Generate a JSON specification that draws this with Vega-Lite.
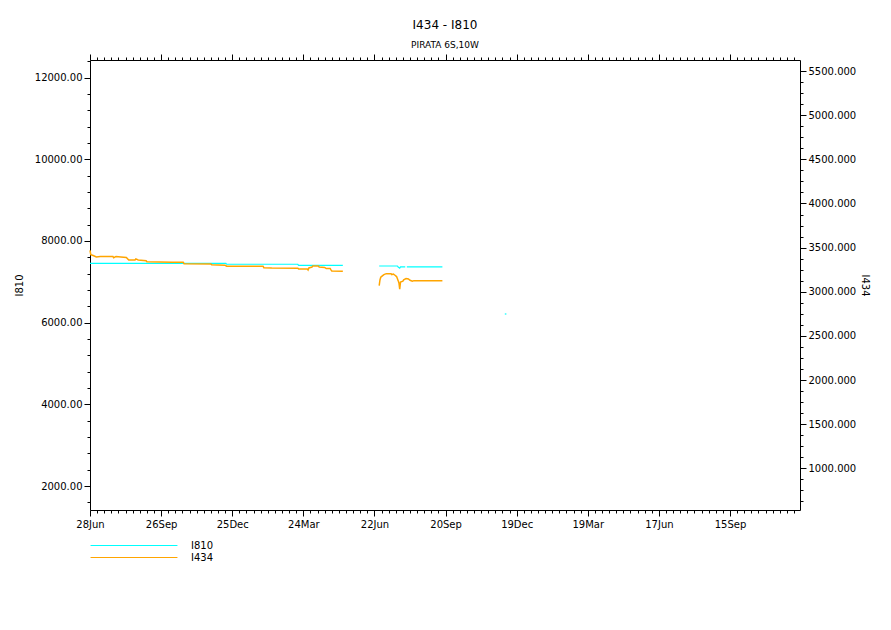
{
  "$schema": "https://vega.github.io/schema/vega-lite/v6.json",
  "width": 710,
  "height": 450,
  "autosize": "none",
  "padding": {"left": 90, "top": 60, "right": 91, "bottom": 120},
  "background": "white",
  "title": {
    "text": "I434 - I810",
    "subtitle": "PIRATA 6S,10W",
    "font": "DejaVu Sans",
    "fontSize": 12,
    "fontWeight": "normal",
    "color": "black",
    "subtitleFont": "DejaVu Sans",
    "subtitleFontSize": 9,
    "subtitleColor": "black",
    "subtitlePadding": 9,
    "anchor": "middle",
    "offset": 3
  },
  "config": {
    "view": {"stroke": null},
    "axis": {
      "grid": false,
      "domainColor": "black",
      "tickColor": "black",
      "labelColor": "black",
      "titleColor": "black",
      "labelFont": "DejaVu Sans",
      "labelFontSize": 10,
      "titleFont": "DejaVu Sans",
      "titleFontSize": 10,
      "titleFontWeight": "normal",
      "labelOverlap": false,
      "labelFlush": false,
      "labelBound": false
    }
  },
  "datasets": {
    "pts": [
      {"d": "1999-06-28", "s": "I810", "g": "a", "v": 7454},
      {"d": "1999-12-17", "s": "I810", "g": "a", "v": 7454},
      {"d": "1999-12-18", "s": "I810", "g": "a", "v": 7430},
      {"d": "2000-03-17", "s": "I810", "g": "a", "v": 7430},
      {"d": "2000-03-18", "s": "I810", "g": "a", "v": 7405},
      {"d": "2000-05-13", "s": "I810", "g": "a", "v": 7405},
      {"d": "2000-06-28", "s": "I810", "g": "b", "v": 7388},
      {"d": "2000-07-21", "s": "I810", "g": "b", "v": 7388},
      {"d": "2000-07-22", "s": "I810", "g": "b", "v": 7364},
      {"d": "2000-07-24", "s": "I810", "g": "b", "v": 7335},
      {"d": "2000-07-25", "s": "I810", "g": "b", "v": 7364},
      {"d": "2000-07-31", "s": "I810", "g": "b", "v": 7364},
      {"d": "2000-08-02", "s": "I810", "g": "c", "v": 7364},
      {"d": "2000-09-16", "s": "I810", "g": "c", "v": 7364},
      {"d": "2000-12-04", "s": "I810", "g": "d", "v": 6213},
      {"d": "2000-12-06", "s": "I810", "g": "d", "v": 6213},
      {"d": "1999-06-28", "s": "I434", "g": "e", "v": 3470},
      {"d": "1999-06-29", "s": "I434", "g": "e", "v": 3420},
      {"d": "1999-07-02", "s": "I434", "g": "e", "v": 3410},
      {"d": "1999-07-06", "s": "I434", "g": "e", "v": 3395},
      {"d": "1999-07-11", "s": "I434", "g": "e", "v": 3398},
      {"d": "1999-07-27", "s": "I434", "g": "e", "v": 3398},
      {"d": "1999-07-28", "s": "I434", "g": "e", "v": 3385},
      {"d": "1999-07-31", "s": "I434", "g": "e", "v": 3400},
      {"d": "1999-08-06", "s": "I434", "g": "e", "v": 3395},
      {"d": "1999-08-13", "s": "I434", "g": "e", "v": 3388},
      {"d": "1999-08-16", "s": "I434", "g": "e", "v": 3360},
      {"d": "1999-08-24", "s": "I434", "g": "e", "v": 3360},
      {"d": "1999-08-25", "s": "I434", "g": "e", "v": 3372},
      {"d": "1999-08-28", "s": "I434", "g": "e", "v": 3360},
      {"d": "1999-09-07", "s": "I434", "g": "e", "v": 3352},
      {"d": "1999-09-08", "s": "I434", "g": "e", "v": 3340},
      {"d": "1999-10-10", "s": "I434", "g": "e", "v": 3335},
      {"d": "1999-10-24", "s": "I434", "g": "e", "v": 3335},
      {"d": "1999-10-25", "s": "I434", "g": "e", "v": 3318},
      {"d": "1999-11-28", "s": "I434", "g": "e", "v": 3315},
      {"d": "1999-11-29", "s": "I434", "g": "e", "v": 3305},
      {"d": "1999-12-16", "s": "I434", "g": "e", "v": 3300},
      {"d": "1999-12-18", "s": "I434", "g": "e", "v": 3290},
      {"d": "2000-01-05", "s": "I434", "g": "e", "v": 3290},
      {"d": "2000-02-02", "s": "I434", "g": "e", "v": 3290},
      {"d": "2000-02-03", "s": "I434", "g": "e", "v": 3273},
      {"d": "2000-02-13", "s": "I434", "g": "e", "v": 3268},
      {"d": "2000-03-17", "s": "I434", "g": "e", "v": 3267},
      {"d": "2000-03-18", "s": "I434", "g": "e", "v": 3259},
      {"d": "2000-03-29", "s": "I434", "g": "e", "v": 3258},
      {"d": "2000-03-30", "s": "I434", "g": "e", "v": 3247},
      {"d": "2000-03-31", "s": "I434", "g": "e", "v": 3270},
      {"d": "2000-04-04", "s": "I434", "g": "e", "v": 3280},
      {"d": "2000-04-05", "s": "I434", "g": "e", "v": 3293},
      {"d": "2000-04-12", "s": "I434", "g": "e", "v": 3293},
      {"d": "2000-04-13", "s": "I434", "g": "e", "v": 3280},
      {"d": "2000-04-20", "s": "I434", "g": "e", "v": 3275},
      {"d": "2000-04-22", "s": "I434", "g": "e", "v": 3262},
      {"d": "2000-04-27", "s": "I434", "g": "e", "v": 3262},
      {"d": "2000-04-28", "s": "I434", "g": "e", "v": 3248},
      {"d": "2000-04-29", "s": "I434", "g": "e", "v": 3235},
      {"d": "2000-05-13", "s": "I434", "g": "e", "v": 3233},
      {"d": "2000-06-28", "s": "I434", "g": "f", "v": 3070},
      {"d": "2000-06-29", "s": "I434", "g": "f", "v": 3134},
      {"d": "2000-06-30", "s": "I434", "g": "f", "v": 3164},
      {"d": "2000-07-02", "s": "I434", "g": "f", "v": 3180},
      {"d": "2000-07-04", "s": "I434", "g": "f", "v": 3194},
      {"d": "2000-07-07", "s": "I434", "g": "f", "v": 3205},
      {"d": "2000-07-13", "s": "I434", "g": "f", "v": 3205},
      {"d": "2000-07-14", "s": "I434", "g": "f", "v": 3195},
      {"d": "2000-07-16", "s": "I434", "g": "f", "v": 3200},
      {"d": "2000-07-18", "s": "I434", "g": "f", "v": 3187},
      {"d": "2000-07-20", "s": "I434", "g": "f", "v": 3172},
      {"d": "2000-07-21", "s": "I434", "g": "f", "v": 3150},
      {"d": "2000-07-22", "s": "I434", "g": "f", "v": 3126},
      {"d": "2000-07-23", "s": "I434", "g": "f", "v": 3100},
      {"d": "2000-07-24", "s": "I434", "g": "f", "v": 3028},
      {"d": "2000-07-25", "s": "I434", "g": "f", "v": 3111},
      {"d": "2000-07-28", "s": "I434", "g": "f", "v": 3120},
      {"d": "2000-07-29", "s": "I434", "g": "f", "v": 3135},
      {"d": "2000-08-01", "s": "I434", "g": "f", "v": 3149},
      {"d": "2000-08-04", "s": "I434", "g": "f", "v": 3145},
      {"d": "2000-08-06", "s": "I434", "g": "f", "v": 3130},
      {"d": "2000-08-09", "s": "I434", "g": "f", "v": 3119},
      {"d": "2000-08-11", "s": "I434", "g": "f", "v": 3126},
      {"d": "2000-09-16", "s": "I434", "g": "f", "v": 3126}
    ]
  },
  "data": {"name": "pts"},
  "layer": [
    {
      "transform": [{"filter": "datum.s === 'I810'"}],
      "mark": {"type": "line", "strokeWidth": 1.2},
      "encoding": {
        "x": {
          "field": "d",
          "type": "temporal",
          "scale": {"type": "utc", "domain": [930528000000, 1008167040000]},
          "axis": {
            "orient": "bottom",
            "title": null,
            "values": [930528000000,931305600000,932083200000,932860800000,933638400000,934416000000,935193600000,935971200000,936748800000,937526400000,938304000000,939081600000,939859200000,940636800000,941414400000,942192000000,942969600000,943747200000,944524800000,945302400000,946080000000,946857600000,947635200000,948412800000,949190400000,949968000000,950745600000,951523200000,952300800000,953078400000,953856000000,954633600000,955411200000,956188800000,956966400000,957744000000,958521600000,959299200000,960076800000,960854400000,961632000000,962409600000,963187200000,963964800000,964742400000,965520000000,966297600000,967075200000,967852800000,968630400000,969408000000,970185600000,970963200000,971740800000,972518400000,973296000000,974073600000,974851200000,975628800000,976406400000,977184000000,977961600000,978739200000,979516800000,980294400000,981072000000,981849600000,982627200000,983404800000,984182400000,984960000000,985737600000,986515200000,987292800000,988070400000,988848000000,989625600000,990403200000,991180800000,991958400000,992736000000,993513600000,994291200000,995068800000,995846400000,996624000000,997401600000,998179200000,998956800000,999734400000,1000512000000,1001289600000,1002067200000,1002844800000,1003622400000,1004400000000,1005177600000,1005955200000,1006732800000,1007510400000],
            "labelExpr": "(+datum.value - 930528000000) % 7776000000 === 0 ? utcFormat(datum.value, '%d%b') : ''",
            "tickSize": {"condition": {"test": "(+datum.value - 930528000000) % 7776000000 === 0", "value": 6}, "value": 3},
            "labelPadding": 3
          }
        },
        "y": {
          "field": "v",
          "type": "quantitative",
          "scale": {"domain": [1415, 12430], "zero": false, "nice": false},
          "axis": {
            "orient": "left",
            "title": "I810",
            "values": [1600,2000,2400,2800,3200,3600,4000,4400,4800,5200,5600,6000,6400,6800,7200,7600,8000,8400,8800,9200,9600,10000,10400,10800,11200,11600,12000,12400],
            "labelExpr": "datum.value % 2000 === 0 ? format(datum.value, '.2f') : ''",
            "tickSize": {"condition": {"test": "datum.value % 2000 === 0", "value": 6}, "value": 3},
            "labelPadding": 2,
            "titlePadding": 10
          }
        },
        "color": {
          "field": "s",
          "type": "nominal",
          "scale": {"domain": ["I810", "I434"], "range": ["#00FFFF", "#FFA500"]},
          "legend": {
            "orient": "none",
            "legendX": 38,
            "legendY": 479.5,
            "title": null,
            "symbolType": "M-8,0H8",
            "symbolSize": 118,
            "symbolStrokeWidth": 1,
            "labelFont": "DejaVu Sans",
            "labelFontSize": 10,
            "labelColor": "black",
            "labelOffset": 51,
            "rowPadding": 1
          }
        },
        "detail": {"field": "g"}
      }
    },
    {
      "transform": [{"filter": "datum.s === 'I434'"}],
      "mark": {"type": "line", "strokeWidth": 1.5},
      "encoding": {
        "x": {
          "field": "d",
          "type": "temporal",
          "scale": {"type": "utc", "domain": [930528000000, 1008167040000]},
          "axis": {
            "orient": "top",
            "title": null,
            "labels": false,
            "values": [930528000000,931305600000,932083200000,932860800000,933638400000,934416000000,935193600000,935971200000,936748800000,937526400000,938304000000,939081600000,939859200000,940636800000,941414400000,942192000000,942969600000,943747200000,944524800000,945302400000,946080000000,946857600000,947635200000,948412800000,949190400000,949968000000,950745600000,951523200000,952300800000,953078400000,953856000000,954633600000,955411200000,956188800000,956966400000,957744000000,958521600000,959299200000,960076800000,960854400000,961632000000,962409600000,963187200000,963964800000,964742400000,965520000000,966297600000,967075200000,967852800000,968630400000,969408000000,970185600000,970963200000,971740800000,972518400000,973296000000,974073600000,974851200000,975628800000,976406400000,977184000000,977961600000,978739200000,979516800000,980294400000,981072000000,981849600000,982627200000,983404800000,984182400000,984960000000,985737600000,986515200000,987292800000,988070400000,988848000000,989625600000,990403200000,991180800000,991958400000,992736000000,993513600000,994291200000,995068800000,995846400000,996624000000,997401600000,998179200000,998956800000,999734400000,1000512000000,1001289600000,1002067200000,1002844800000,1003622400000,1004400000000,1005177600000,1005955200000,1006732800000,1007510400000],
            "tickSize": {"condition": {"test": "(+datum.value - 930528000000) % 7776000000 === 0", "value": 6}, "value": 3}
          }
        },
        "y": {
          "field": "v",
          "type": "quantitative",
          "scale": {"domain": [528, 5625], "zero": false, "nice": false},
          "axis": {
            "orient": "right",
            "title": "I434",
            "values": [625,750,875,1000,1125,1250,1375,1500,1625,1750,1875,2000,2125,2250,2375,2500,2625,2750,2875,3000,3125,3250,3375,3500,3625,3750,3875,4000,4125,4250,4375,4500,4625,4750,4875,5000,5125,5250,5375,5500],
            "labelExpr": "datum.value % 500 === 0 ? format(datum.value, '.3f') : ''",
            "tickSize": {"condition": {"test": "datum.value % 500 === 0", "value": 6}, "value": 3},
            "labelPadding": 2,
            "titlePadding": 4
          }
        },
        "color": {"field": "s", "type": "nominal"},
        "detail": {"field": "g"}
      }
    }
  ],
  "resolve": {"scale": {"y": "independent"}, "axis": {"x": "independent", "y": "independent"}}
}
